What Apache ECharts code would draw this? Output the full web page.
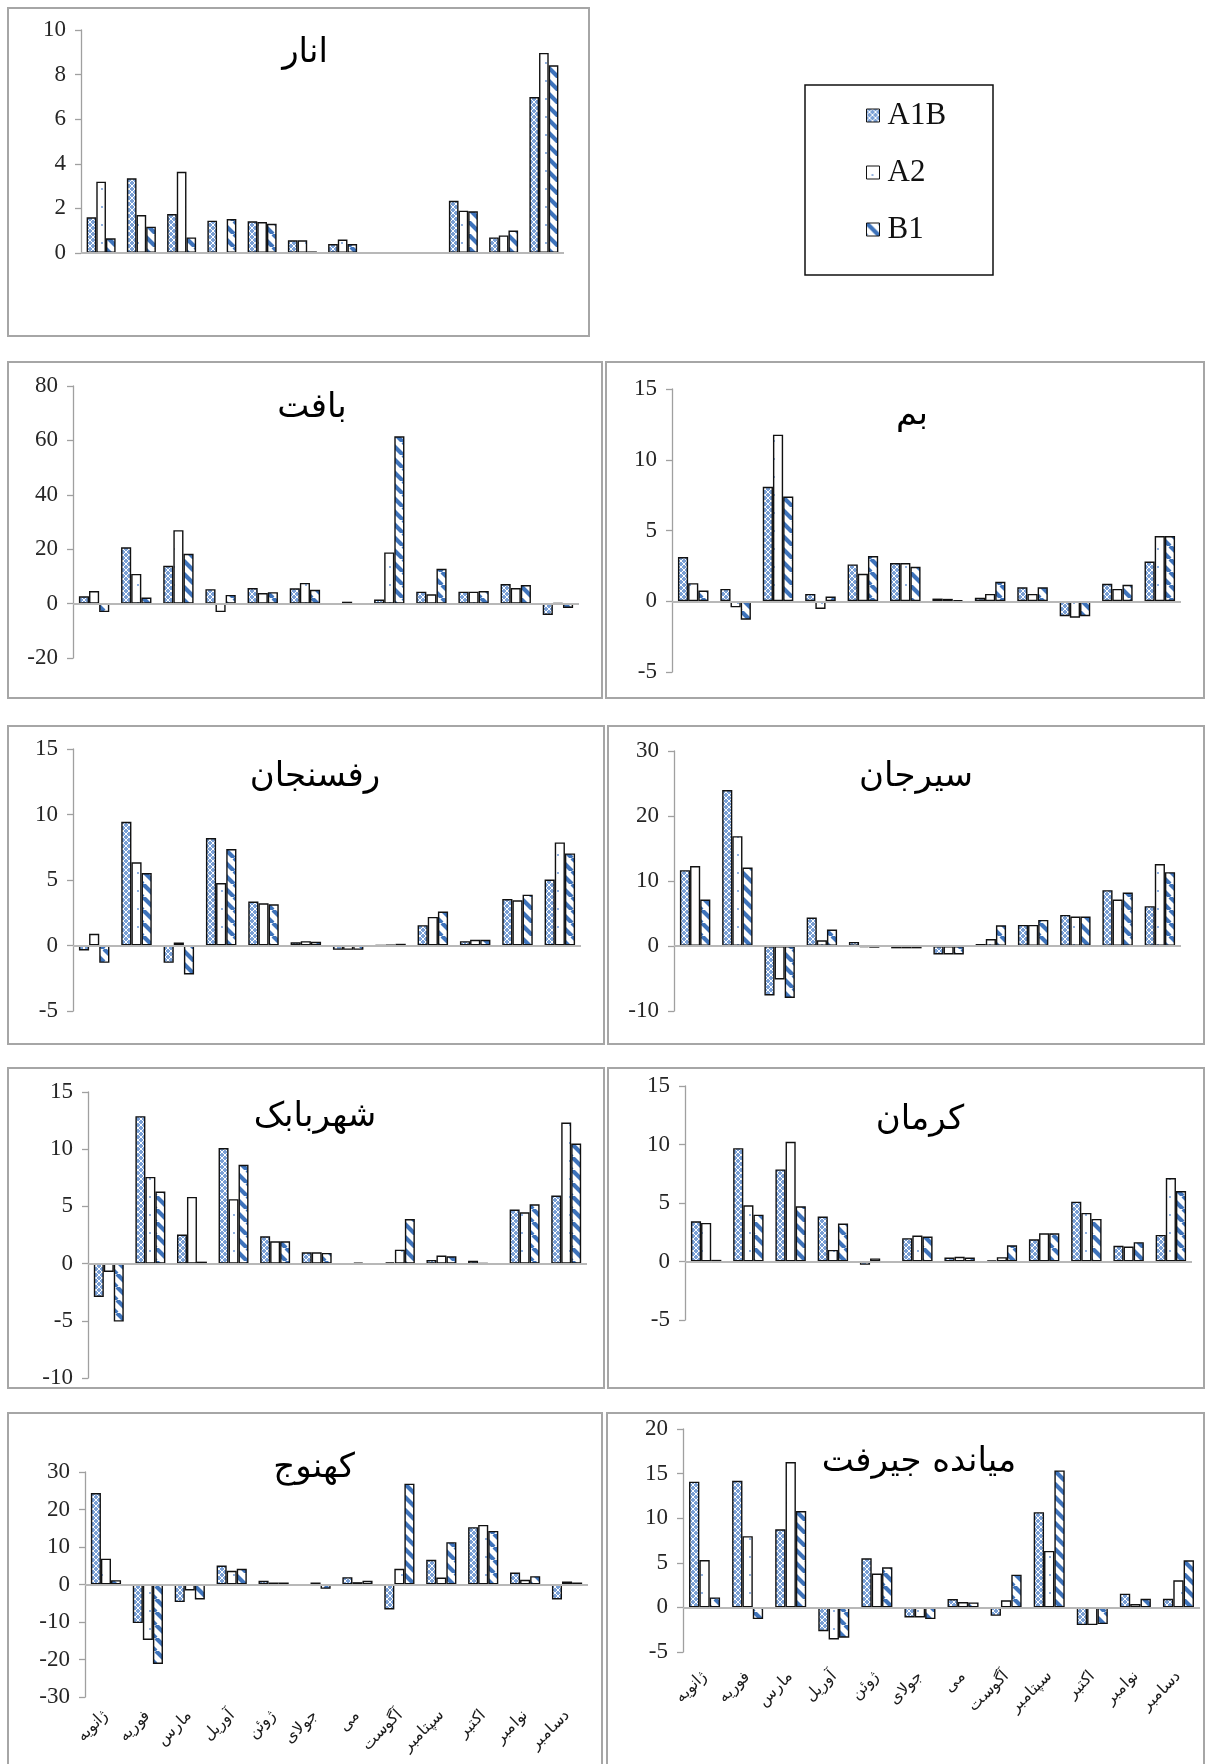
<!DOCTYPE html>
<html><head><meta charset="utf-8">
<script src="https://cdn.jsdelivr.net/npm/echarts@6/dist/echarts.min.js"></script>
<style>html,body{margin:0;padding:0;background:#fff}#c{width:1207px;height:1764px}</style>
</head><body><div id="c"></div>
<script>
// ---------- DATA ----------
const months = ['ژانویه','فوریه','مارس','آوریل','ژوئن','جولای','می','آگوست','سپتامبر','اکتبر','نوامبر','دسامبر'];
const seriesNames = ['A1B','A2','B1'];

const anarA1B = [1.6,3.35,1.75,1.45,1.42,0.57,0.4,null,null,2.34,0.7,6.99];
const anarA2  = [3.2,1.7,3.64,null,1.39,0.57,0.6,null,null,1.9,0.79,8.97];
const anarB1  = [0.66,1.18,0.7,1.52,1.31,0.07,0.4,null,null,1.87,1.01,8.42];

const baftA1B = [2.7,20.7,13.9,5.3,5.7,5.6,-0.4,1.5,4.4,4.4,7.2,-4.2];
const baftA2  = [4.6,10.9,27.0,-3.1,3.9,7.6,0.7,18.8,3.4,4.4,5.7,0.2];
const baftB1  = [-3.1,2.2,18.3,3.2,4.2,5.1,-0.5,61.5,12.8,4.6,6.8,-1.6];

const bamA1B = [3.12,0.87,8.09,0.52,2.6,2.7,0.19,0.24,0.99,-1.06,1.23,2.81];
const bamA2  = [1.28,-0.43,11.77,-0.54,1.94,2.7,0.17,0.52,0.52,-1.16,0.87,4.61];
const bamB1  = [0.76,-1.3,7.4,0.33,3.19,2.43,0.07,1.37,0.99,-1.06,1.16,4.61];

const rafA1B = [-0.38,9.44,-1.32,8.2,3.35,0.25,-0.33,0.02,1.55,0.33,3.55,5.03];
const rafA2  = [0.89,6.35,0.23,4.77,3.22,0.33,-0.33,0.03,2.18,0.43,3.45,7.87];
const rafB1  = [-1.32,5.53,-2.21,7.36,3.15,0.28,-0.33,0.13,2.59,0.43,3.88,7.03];

const sirA1B = [11.67,24.0,-7.6,4.37,0.62,-0.36,-1.29,0.31,3.24,4.78,8.59,6.12];
const sirA2  = [12.29,16.9,-5.14,0.87,-0.2,-0.36,-1.29,1.08,3.24,4.52,7.15,12.6];
const sirB1  = [7.15,12.08,-8.0,2.52,-0.26,-0.36,-1.29,3.19,4.01,4.52,8.23,11.36];

const shaA1B = [-2.92,12.89,2.54,10.1,2.39,0.99,-0.03,0.12,0.32,0.26,4.72,5.95];
const shaA2  = [-0.73,7.58,5.83,5.63,1.95,0.99,0.09,1.22,0.7,0.03,4.49,12.33];
const shaB1  = [-5.07,6.3,0.17,8.63,1.95,0.93,0.0,3.9,0.64,-0.06,5.19,10.5];

const kerA1B = [3.44,9.69,7.87,3.84,-0.28,1.99,0.34,0.09,1.9,5.11,1.34,2.27];
const kerA2  = [3.3,4.8,10.23,0.99,0.26,2.22,0.4,0.37,2.41,4.15,1.28,7.13];
const kerB1  = [0.14,4.0,4.72,3.24,-0.06,2.13,0.34,1.39,2.41,3.64,1.65,6.02];

const kahA1B = [24.4,-10.3,-4.7,5.07,0.98,-0.36,1.96,-6.67,6.58,15.3,3.2,-4.0];
const kahA2  = [6.9,-14.8,-1.6,3.64,0.53,0.53,0.62,4.18,1.87,15.9,1.24,0.8];
const kahB1  = [1.16,-21.2,-4.0,4.18,0.53,-1.16,0.98,26.9,11.3,14.3,2.22,0.53];

const jirA1B = [14.1,14.2,8.76,-2.66,5.5,-1.12,0.94,-0.94,10.67,-1.98,1.54,0.97];
const jirA2  = [5.3,7.98,16.3,-3.6,3.8,-1.12,0.6,0.79,6.33,-1.98,0.37,3.03];
const jirB1  = [1.12,-1.31,10.8,-3.4,4.5,-1.31,0.56,3.67,15.36,-1.87,0.97,5.28];

// ---------- LAYOUT ----------
const panels = [
  {title:'انار',        data:[anarA1B,anarA2,anarB1], min:0,  max:10, step:2,  grid:[81,30,483,223],   box:[8,8,581,328],      tc:[300,48],   labels:false},
  {title:'بافت',        data:[baftA1B,baftA2,baftB1], min:-20,max:80, step:20, grid:[73,386,506,272],  box:[8,362,594,336],    tc:[307,403],  labels:false},
  {title:'بم',          data:[bamA1B,bamA2,bamB1],    min:-5, max:15, step:5,  grid:[672,389,509,283], box:[606,362,598,336],  tc:[907,410],  labels:false},
  {title:'رفسنجان',     data:[rafA1B,rafA2,rafB1],    min:-5, max:15, step:5,  grid:[73,749,508,262],  box:[8,726,596,318],    tc:[310,772],  labels:false},
  {title:'سیرجان',      data:[sirA1B,sirA2,sirB1],    min:-10,max:30, step:10, grid:[674,751,507,260], box:[608,726,596,318],  tc:[911,772],  labels:false},
  {title:'شهربابک',     data:[shaA1B,shaA2,shaB1],    min:-10,max:15, step:5,  grid:[88,1092,499,286], box:[8,1068,596,320],   tc:[310,1112], labels:false},
  {title:'کرمان',       data:[kerA1B,kerA2,kerB1],    min:-5, max:15, step:5,  grid:[685,1086,507,234],box:[608,1068,596,320], tc:[915,1115], labels:false},
  {title:'کهنوج',       data:[kahA1B,kahA2,kahB1],    min:-30,max:30, step:10, grid:[85,1472,503,225], box:[8,1413,594,380],   tc:[309,1463], labels:true, lm:16},
  {title:'میانده جیرفت',data:[jirA1B,jirA2,jirB1],    min:-5, max:20, step:5,  grid:[683,1429,517,223],box:[607,1413,597,380], tc:[914,1457], labels:true, lm:22}
];

// ---------- PATTERNS ----------
function makePattern(kind){
  const c = document.createElement('canvas');
  let g;
  if (kind === 'A1B') {
    c.width = 6; c.height = 6; g = c.getContext('2d');
    g.fillStyle = '#7aa0d6'; g.fillRect(0,0,6,6);
    g.strokeStyle = '#ffffff'; g.lineWidth = 1;
    g.beginPath(); g.moveTo(0,0); g.lineTo(6,6); g.moveTo(6,0); g.lineTo(0,6); g.stroke();
  } else if (kind === 'A2') {
    c.width = 12; c.height = 18; g = c.getContext('2d');
    g.fillStyle = '#ffffff'; g.fillRect(0,0,12,18);
    g.fillStyle = '#5b8bd0'; g.beginPath(); g.arc(6,9,0.9,0,Math.PI*2); g.fill();
  } else {
    c.width = 13; c.height = 13; g = c.getContext('2d');
    g.fillStyle = '#ffffff'; g.fillRect(0,0,13,13);
    g.strokeStyle = '#3e73bb'; g.lineWidth = 4.2;
    g.beginPath();
    [-13,0,13].forEach(o => { g.moveTo(o,0); g.lineTo(o+13,13); });
    g.stroke();
  }
  return {image: c, repeat: 'repeat'};
}
const fills = seriesNames.map(makePattern);

// ---------- OPTION ----------
const grids = [], xAxes = [], yAxes = [], series = [], titles = [], graphics = [];
const serif = '"Liberation Serif","Times New Roman",serif';

panels.forEach((p, i) => {
  grids.push({left:p.grid[0], top:p.grid[1], width:p.grid[2], height:p.grid[3], containLabel:false, outerBoundsMode:'none'});
  xAxes.push({
    type:'category', gridIndex:i, data:months, position:'bottom',
    axisLine:{show:false, onZero:false}, axisTick:{show:false}, splitLine:{show:false},
    axisLabel: p.labels ? {show:true, rotate:45, interval:0, fontSize:16, margin:p.lm, color:'#1a1a1a', fontFamily:serif} : {show:false}
  });
  yAxes.push({
    type:'value', gridIndex:i, min:p.min, max:p.max, interval:p.step,
    splitLine:{show:false},
    axisLine:{show:true, lineStyle:{color:'#a0a0a0', width:1.3}},
    axisTick:{show:true, length:6, lineStyle:{color:'#a0a0a0', width:1.3}},
    axisLabel:{fontSize:23, color:'#262626', fontFamily:serif, margin:15}
  });
  p.data.forEach((arr, k) => {
    const s = {
      type:'bar', name:seriesNames[k], xAxisIndex:i, yAxisIndex:i, data:arr,
      barGap:'0%', barCategoryGap:'28%',
      itemStyle:{color:fills[k], borderColor:'#111', borderWidth:1.4},
      emphasis:{disabled:true}
    };
    if (k === 0) {
      s.markLine = {silent:true, symbol:'none', label:{show:false}, animation:false,
        lineStyle:{color:'#b8b8b8', width:2, type:'solid'}, data:[{yAxis:0}]};
    }
    series.push(s);
  });
  titles.push({text:p.title, left:p.tc[0], top:p.tc[1], textAlign:'center', textVerticalAlign:'middle',
    textStyle:{fontSize:34, fontWeight:'normal', color:'#000', fontFamily:'"DejaVu Sans",sans-serif'}});
  graphics.push({type:'rect', silent:true, z:-1, shape:{x:p.box[0], y:p.box[1], width:p.box[2], height:p.box[3]},
    style:{fill:'none', stroke:'#a6a6a6', lineWidth:2}});
});
graphics.push({type:'rect', silent:true, shape:{x:805, y:85, width:188, height:190},
  style:{fill:'none', stroke:'#111', lineWidth:1.5}});

const option = {
  animation:false,
  backgroundColor:'#ffffff',
  title:titles,
  legend:{
    data:seriesNames, orient:'vertical', left:866, top:100, padding:0, itemWidth:13, itemHeight:13, itemGap:26,
    icon:'rect', selectedMode:false,
    itemStyle:{borderColor:'#111', borderWidth:1},
    textStyle:{fontSize:31, color:'#111', fontFamily:serif, padding:[0,0,0,3]}
  },
  grid:grids, xAxis:xAxes, yAxis:yAxes, series:series, graphic:graphics
};
const chart = echarts.init(document.getElementById('c'), null, {renderer:'canvas'});
chart.setOption(option);
</script></body></html>
